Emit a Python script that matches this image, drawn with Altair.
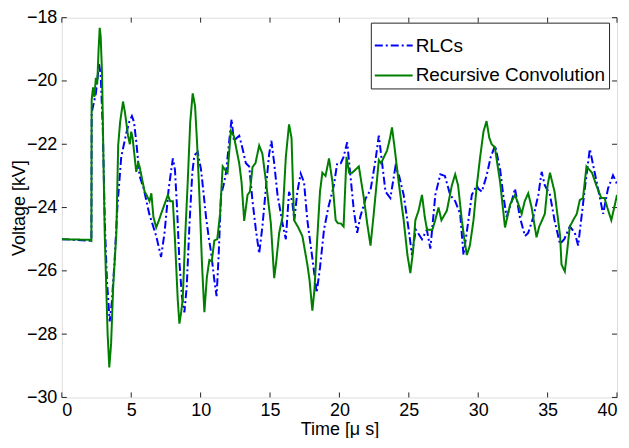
import altair as alt
import pandas as pd

# ---- data ----
rlc_t = [0, 2.13, 2.15, 2.3, 2.45, 2.55, 2.68, 2.8, 2.95, 3.1, 3.25, 3.45, 3.6, 3.8, 4.0, 4.28, 4.64, 4.85,
         5.05, 5.2, 5.36, 5.6, 5.9, 6.3, 6.8, 7.15, 7.4, 7.7, 8.0, 8.15, 8.3, 8.47, 8.65, 8.83, 9.0, 9.2,
         9.4, 9.55, 9.79, 10.03, 10.2, 10.39, 10.6, 10.75, 10.99, 11.15, 11.3, 11.47, 11.65, 11.83, 12.06,
         12.23, 12.4, 12.6, 12.78, 13.0, 13.26, 13.5, 13.74, 13.98, 14.22, 14.45, 14.7, 14.94, 15.1, 15.3,
         15.54, 15.9, 16.14, 16.37, 16.6, 16.75, 16.97, 17.21, 17.45, 17.69, 18.05, 18.36, 18.6, 18.89,
         19.2, 19.6, 19.84, 20.1, 20.3, 20.56, 20.75, 21.04, 21.28, 21.5, 21.9, 22.24, 22.6, 22.84, 23.05,
         23.32, 23.67, 24.04, 24.3, 24.63, 24.99, 25.23, 25.5, 25.95, 26.3, 26.55, 26.91, 27.27, 27.6,
         27.98, 28.34, 28.7, 28.94, 29.2, 29.54, 29.9, 30.0, 30.26, 30.6, 30.9, 31.22, 31.58, 31.8, 32.05,
         32.41, 32.65, 33.0, 33.37, 33.6, 33.97, 34.33, 34.57, 34.8, 35.17, 35.5, 35.89, 36.2, 36.6, 36.96,
         37.2, 37.44, 37.68, 37.92, 38.04, 38.3, 38.63, 39.0, 39.35, 39.71, 39.95, 40.0]
rlc_v = [-25, -25.05, -21.0, -20.7, -20.4, -20.0, -19.46, -19.8, -21.5, -24.5, -26.3, -27.6, -27.0, -25.7,
         -24.0, -22.4, -21.66, -21.3, -21.11, -21.3, -21.9, -23.0, -23.4, -24.2, -24.9, -25.56, -24.8,
         -23.4, -22.45, -22.8, -24.0, -25.7, -26.8, -27.31, -26.5, -24.5, -22.9, -22.35, -22.25, -22.8,
         -23.5, -24.3, -25.0, -25.4, -26.3, -26.8, -25.5, -23.6, -23.3, -22.9, -21.9, -21.21, -21.9, -21.8,
         -21.73, -22.1, -22.6, -22.7, -23.8, -24.7, -25.45, -24.6, -23.4, -22.3, -21.89, -22.6, -23.6,
         -24.5, -25.0, -23.5, -23.8, -24.4, -23.5, -22.93, -23.2, -24.4, -25.6, -26.69, -25.9, -24.7,
         -24.0, -23.3, -22.6, -22.6, -22.4, -21.94, -22.8, -24.1, -24.8, -24.3, -23.7, -23.45, -22.5,
         -21.73, -22.5, -23.5, -23.7, -22.7, -23.0, -23.6, -24.7, -25.5, -24.7, -25.0, -24.7, -25.3, -23.6,
         -22.95, -23.0, -23.6, -23.8, -24.2, -25.5, -24.7, -23.6, -23.3, -23.4, -23.5, -23.0, -22.4,
         -22.04, -22.8, -23.6, -24.3, -23.8, -23.4, -24.3, -24.9, -24.8, -24.3, -23.6, -22.87, -23.3,
         -23.6, -24.4, -25.15, -25.0, -24.6, -24.8, -25.2, -24.3, -23.4, -22.56, -22.15, -22.7, -23.4,
         -24.2, -23.4, -22.98, -23.2, -23.3]

rc_t = [0, 2.0, 2.13, 2.15, 2.25, 2.35, 2.45, 2.55, 2.65, 2.73, 2.8, 2.9, 3.0, 3.09, 3.2, 3.3, 3.42, 3.55,
        3.7, 3.93, 4.06, 4.2, 4.41, 4.55, 4.77, 4.9, 5.0, 5.1, 5.36, 5.5, 5.6, 5.96, 6.1, 6.32, 6.45, 6.6,
        6.8, 7.0, 7.15, 7.4, 7.64, 7.8, 8.0, 8.15, 8.35, 8.47, 8.6, 8.71, 8.9, 9.07, 9.25, 9.43, 9.6,
        9.75, 9.91, 10.1, 10.27, 10.45, 10.63, 10.8, 10.99, 11.2, 11.4, 11.59, 11.75, 11.94, 12.18, 12.4,
        12.6, 12.78, 12.95, 13.14, 13.38, 13.55, 13.74, 13.95, 14.22, 14.45, 14.7, 15.06, 15.3, 15.45,
        15.66, 15.9, 16.14, 16.37, 16.55, 16.73, 17.0, 17.33, 17.69, 17.85, 18.05, 18.2, 18.4, 18.6,
        18.77, 19.0, 19.25, 19.5, 19.73, 19.9, 20.1, 20.3, 20.51, 20.7, 20.92, 21.4, 21.76, 22.0, 22.24,
        22.45, 22.84, 23.0, 23.43, 23.6, 23.79, 24.0, 24.27, 24.63, 24.9, 25.11, 25.3, 25.47, 25.7,
        25.95, 26.15, 26.31, 26.7, 26.9, 27.14, 27.35, 27.74, 28.1, 28.34, 28.55, 28.82, 29.0, 29.18,
        29.4, 29.66, 29.9, 30.14, 30.38, 30.6, 30.8, 30.97, 31.2, 31.58, 31.93, 32.1, 32.3, 32.65, 32.9,
        33.13, 33.35, 33.6, 33.85, 34.2, 34.4, 34.8, 35.0, 35.17, 35.5, 35.7, 35.9, 36.0, 36.24, 36.4,
        36.6, 36.84, 37.1, 37.32, 37.55, 37.8, 38.0, 38.2, 38.51, 38.87, 39.1, 39.3, 39.59, 39.8, 40.0]
rc_v = [-25, -25.02, -25.05, -20.6, -20.2, -20.5, -19.9, -20.1, -19.0, -18.32, -18.6, -19.8, -22.5, -24.8,
        -26.5, -28.0, -29.05, -28.3, -26.5, -24.8, -22.04, -21.3, -20.65, -21.0, -21.73, -22.0, -21.6,
        -21.8, -22.87, -22.6, -22.7, -23.49, -23.6, -23.8, -23.55, -24.3, -24.63, -24.4, -24.2, -23.9,
        -23.6, -23.8, -23.8, -25.0, -26.9, -27.67, -27.3, -26.9, -24.8, -23.2, -21.3, -20.39, -20.8,
        -22.0, -23.6, -25.8, -27.31, -26.2, -25.66, -25.7, -25.04, -25.0, -24.2, -22.7, -22.8, -22.9,
        -21.58, -21.75, -22.2, -22.6, -23.2, -24.42, -23.6, -23.5, -22.72, -22.6, -22.04, -22.3, -23.15,
        -24.5, -26.23, -25.7, -24.8, -24.3, -22.4, -21.37, -21.8, -24.4, -24.6, -24.9, -25.8, -26.3,
        -27.26, -26.6, -25.0, -23.5, -22.9, -23.0, -22.45, -23.2, -24.4, -24.5, -24.5, -24.6, -22.4,
        -22.9, -22.9, -22.7, -23.7, -24.5, -25.2, -24.3, -22.5, -22.6, -22.2, -21.9, -21.47, -22.2,
        -23.2, -24.4, -25.5, -26.07, -25.4, -24.4, -24.1, -23.6, -24.3, -24.7, -24.7, -24.4, -24.0,
        -24.4, -24.1, -23.3, -22.95, -23.3, -24.4, -25.0, -25.5, -25.2, -24.4, -23.3, -22.4, -21.6,
        -21.27, -21.8, -22.0, -22.1, -23.2, -24.63, -24.3, -23.9, -23.6, -23.9, -24.2, -23.8, -23.55,
        -24.0, -24.94, -24.6, -24.2, -23.3, -22.9, -23.5, -24.2, -24.9, -25.8, -26.02, -25.4, -24.6,
        -24.4, -24.2, -23.76, -23.7, -22.7, -22.8, -22.9, -23.3, -23.7, -23.7, -24.0, -24.4, -24.0, -23.6]

series_names = ["RLCs", "Recursive Convolution"]
x_ticks = [0, 5, 10, 15, 20, 25, 30, 35, 40]
y_ticks = [-30, -28, -26, -24, -22, -20, -18]

# ---- build tables ----
df = pd.concat([
    pd.DataFrame({"t": rlc_t, "v": rlc_v, "series": series_names[0], "k": range(len(rlc_t))}),
    pd.DataFrame({"t": rc_t, "v": rc_v, "series": series_names[1], "k": range(len(rc_t))}),
])
xt = pd.DataFrame({"xt": x_ticks})
yt = pd.DataFrame({"yt": y_ticks})

W, H = 557, 381
FONT = "Liberation Sans"
AX = "#262626"

xscale = alt.Scale(domain=[0, 40], nice=False)
yscale = alt.Scale(domain=[-30, -18], nice=False)

xaxis = alt.Axis(values=x_ticks, ticks=False, domain=False, grid=False, labelFontSize=18,
                 labelFont=FONT, labelColor="black", labelPadding=4, title="Time [μ s]",
                 titleFont=FONT, titleFontSize=18, titleFontWeight="normal", titleColor="black",
                 titlePadding=1)
yaxis = alt.Axis(values=y_ticks, ticks=False, domain=False, grid=False, labelFontSize=18,
                 labelFont=FONT, labelColor="black", labelPadding=5, title="Voltage [kV]",
                 titleFont=FONT, titleFontSize=18, titleFontWeight="normal", titleColor="black",
                 titleX=-33, titleY=H / 2, titleAngle=270, titleBaseline="bottom", titleAlign="center")

leg = dict(title=None, orient="none", legendX=310, legendY=5, strokeColor=AX, fillColor="white",
           padding=3, labelFont=FONT, labelFontSize=19, labelColor="black", labelLimit=400,
           symbolType="stroke", symbolSize=1444, symbolStrokeWidth=2, labelOffset=2, rowPadding=-3,
           cornerRadius=0)

lines = alt.Chart(df).mark_line(strokeWidth=2, clip=True).encode(
    x=alt.X("t:Q", scale=xscale, axis=xaxis),
    y=alt.Y("v:Q", scale=yscale, axis=yaxis),
    order="k:Q",
    color=alt.Color("series:N", scale=alt.Scale(domain=series_names, range=["#0000ff", "#007f00"]),
                    legend=alt.Legend(**leg)),
    strokeDash=alt.StrokeDash("series:N",
                              scale=alt.Scale(domain=series_names, range=[[8, 3, 2, 3], [1, 0]]),
                              legend=alt.Legend(**leg)),
)

tb = alt.Chart(xt).mark_rule(color=AX, strokeWidth=1).encode(
    x=alt.X("xt:Q", scale=xscale), y=alt.value(H), y2=alt.value(H - 5))
tt = alt.Chart(xt).mark_rule(color=AX, strokeWidth=1).encode(
    x=alt.X("xt:Q", scale=xscale), y=alt.value(0), y2=alt.value(5))
tl = alt.Chart(yt).mark_rule(color=AX, strokeWidth=1).encode(
    y=alt.Y("yt:Q", scale=yscale), x=alt.value(0), x2=alt.value(5))
tr = alt.Chart(yt).mark_rule(color=AX, strokeWidth=1).encode(
    y=alt.Y("yt:Q", scale=yscale), x=alt.value(W), x2=alt.value(W - 5))

chart = alt.layer(tb, tt, tl, tr, lines).properties(
    width=W, height=H,
    autosize=alt.AutoSizeParams(type="none"),
    padding={"left": 54, "top": 9, "right": 4, "bottom": 40},
).configure_view(stroke=AX, strokeWidth=1.2).configure(background="white")

chart.save("out.html", embed_options={"renderer": "svg", "actions": False})
